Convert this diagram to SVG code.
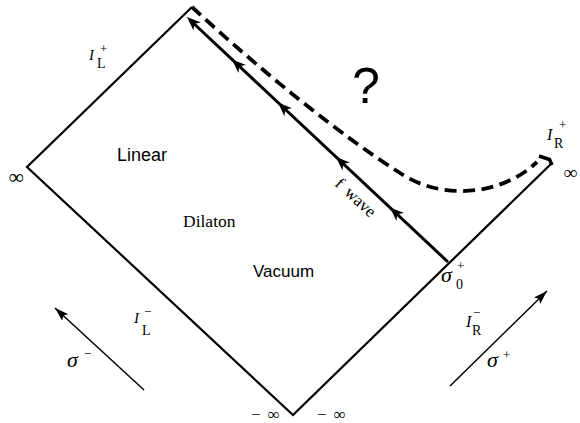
<svg xmlns="http://www.w3.org/2000/svg" width="580" height="423" viewBox="0 0 580 423">
<style>
.edge{fill:none;stroke:#000;stroke-width:2.2;stroke-linejoin:miter}
.fline{fill:none;stroke:#000;stroke-width:3}
.dash{fill:none;stroke:#000;stroke-width:3.8;stroke-dasharray:12 6.5}
.thin{fill:none;stroke:#000;stroke-width:1.5}
.sans{font-family:"Liberation Sans",Arial,sans-serif;fill:#000}
.serif{font-family:"Liberation Serif","Times New Roman",serif;fill:#000}
.it{font-style:italic}
</style>
<defs>
<path id="fa" d="M0,0 L-14,-5.5 L-10,0 L-14,5.5 Z" fill="#000"/>
<marker id="ah" viewBox="0 0 14 9" refX="14" refY="4.5" markerWidth="14" markerHeight="9" orient="auto" markerUnits="userSpaceOnUse">
<path d="M0,0 L14,4.5 L0,9 L3,4.5 Z" fill="#000"/>
</marker>
</defs>
<rect width="580" height="423" fill="#fff"/>
<g id="connectors">
<g id="diamond">
<polyline class="edge" points="552,163 293,415 27,167 192,7"/>
</g>
<g id="f-wave">
<line class="fline" x1="448" y1="262" x2="190" y2="20"/>
<use href="#fa" transform="translate(187,17) rotate(223.2)"/>
<use href="#fa" transform="translate(232,59.5) rotate(223.2)"/>
<use href="#fa" transform="translate(278,102.6) rotate(223.2)"/>
<use href="#fa" transform="translate(336,157) rotate(223.2)"/>
<use href="#fa" transform="translate(390,207.5) rotate(223.2)"/>
</g>
<g id="dashed-boundary">
<path class="dash" d="M192,7 C260,70 340,135 400,173 C440,200 500,197 537,162"/>
<polyline fill="none" stroke="#000" stroke-width="3.5" points="539,156 549.5,159.5 552,165"/>
</g>
<g id="sigma-arrows">
<line class="thin" x1="144" y1="390" x2="55" y2="308" marker-end="url(#ah)"/>
<line class="thin" x1="450" y1="386" x2="547" y2="291" marker-end="url(#ah)"/>
</g>
</g>
<g id="label-IL-plus">
<text class="serif it" x="89" y="60" font-size="15">I</text>
<text class="serif" x="100" y="53" font-size="13">+</text>
<text class="serif" x="97" y="68" font-size="14">L</text>
</g>
<g id="label-IR-plus">
<text class="serif it" x="547" y="140" font-size="16">I</text>
<text class="serif" x="559" y="129" font-size="13">+</text>
<text class="serif" x="554" y="148" font-size="14">R</text>
</g>
<g id="label-IL-minus">
<text class="serif it" x="134" y="323" font-size="15">I</text>
<text class="serif" x="144" y="316" font-size="13">−</text>
<text class="serif" x="142" y="335" font-size="14">L</text>
</g>
<g id="label-IR-minus">
<text class="serif it" x="466" y="327" font-size="16">I</text>
<text class="serif" x="473" y="317" font-size="13">−</text>
<text class="serif" x="472" y="335" font-size="14">R</text>
</g>
<g id="label-sigma0">
<text class="serif it" x="441" y="282" font-size="22">σ</text>
<text class="serif" x="457" y="270" font-size="13">+</text>
<text class="serif" x="456" y="289" font-size="14">0</text>
</g>
<g id="label-sigma-minus">
<text class="serif it" x="67" y="367" font-size="22">σ</text>
<text class="serif" x="84" y="358" font-size="13">−</text>
</g>
<g id="label-sigma-plus">
<text class="serif it" x="487" y="367" font-size="22">σ</text>
<text class="serif" x="503" y="359" font-size="13">+</text>
</g>
<g id="infinities">
<text class="serif" x="16.5" y="184" font-size="21" font-weight="bold" text-anchor="middle">∞</text>
<text class="serif" x="564" y="179" font-size="19" font-weight="bold">∞</text>
<text class="serif" x="251" y="420" font-size="17" word-spacing="3">− ∞</text>
<text class="serif" x="317" y="420" font-size="17" word-spacing="3">− ∞</text>
</g>
<g id="region-labels">
<text class="sans" x="352" y="103" font-size="50">?</text>
<text class="sans" x="117" y="161" font-size="18">Linear</text>
<text class="serif" x="183" y="227" font-size="17.5">Dilaton</text>
<text class="sans" x="253" y="277" font-size="17">Vacuum</text>
<text class="serif" x="334" y="185" font-size="17" word-spacing="3" transform="rotate(43 334 185)">f wave</text>
</g>
</svg>
